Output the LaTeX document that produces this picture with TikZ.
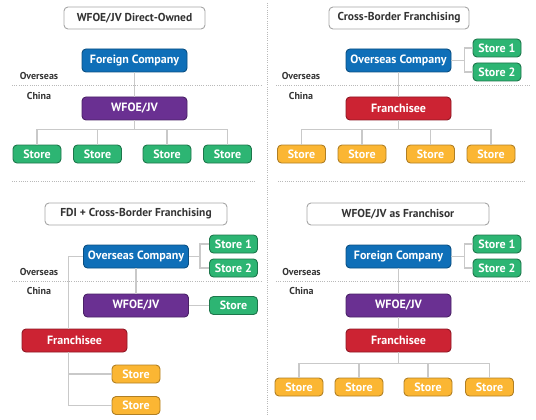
\documentclass[tikz,border=0pt]{standalone}
\usepackage{fontspec}
\setsansfont{PT Sans}
\usepackage{xcolor}
\usepackage{tikz}
\usetikzlibrary{positioning,calc}
\definecolor{cblue}{HTML}{0F6FB8}
\definecolor{cpurple}{HTML}{6A3092}
\definecolor{cred}{HTML}{CC2333}
\definecolor{cgreen}{HTML}{2DB573}
\definecolor{cyellow}{HTML}{FBB633}
\definecolor{clink}{HTML}{C9C9C9}
\definecolor{ctext}{HTML}{333333}
\tikzset{
  ttl/.style={draw=gray!70,fill=white,rounded corners=4pt,line width=0.9pt,minimum height=22pt,font=\sffamily\bfseries\fontsize{11.5}{13}\selectfont,text=ctext},
  org/.style={rounded corners=4pt,line width=0.9pt,minimum width=105pt,minimum height=23pt,text=white,font=\sffamily\bfseries\fontsize{12}{14}\selectfont},
  blu/.style={org,fill=cblue,draw=cblue!70!black},
  pur/.style={org,fill=cpurple,draw=cpurple!70!black},
  fra/.style={org,fill=cred,draw=cred!70!black},
  sgr/.style={org,minimum width=48pt,minimum height=18pt,fill=cgreen,draw=cgreen!65!black},
  syl/.style={org,minimum width=48pt,minimum height=18pt,fill=cyellow,draw=cyellow!70!black},
  reg/.style={font=\sffamily\bfseries\fontsize{10}{11}\selectfont,text=ctext},
  lnk/.style={draw=clink,line width=1.3pt},
  sep/.style={draw=gray!55,line width=0.8pt,dash pattern=on 1pt off 1.2pt},
}
\begin{document}
\begin{tikzpicture}[x=1pt,y=-1pt]
  \useasboundingbox (0,0) rectangle (536,420);
  % frame lines
  \draw[sep] (267,3) -- (267,416);
  \draw[sep] (12,181) -- (256,181);
  \draw[sep] (278,181) -- (526,181);

  % WFOE/JV Direct-Owned
  \node[ttl,minimum width=141pt] (t1) at (134.5,18) {WFOE/JV Direct-Owned};
  \node[blu] (fc1) at (134.5,60.5) {Foreign Company};
  \node[pur] (wf1) at (134.5,108.5) {WFOE/JV};
  \node[reg] (ov1) at (39,76) {Overseas};
  \node[reg] (ch1) at (39,96) {China};
  \draw[sep] (12,85) -- (262,85);
  \foreach \i/\x in {a/37,b/97.5,c/167,d/227.5}
    \node[sgr] (s1\i) at (\x,154) {Store};
  \draw[lnk] (fc1) -- (wf1);
  \foreach \i in {a,b,c,d}
    \draw[lnk] (wf1.south) -- ++(0,9) -| (s1\i.north);

  % Cross-Border Franchising
  \node[ttl,minimum width=140pt] (t2) at (399,18) {Cross-Border Franchising};
  \node[blu] (oc2) at (398.5,60.5) {Overseas Company};
  \node[sgr] (s21) at (497,48) {Store 1};
  \node[sgr] (s22) at (497,72) {Store 2};
  \node[fra] (fr2) at (398.5,108.5) {Franchisee};
  \node[reg] (ov2) at (301,76) {Overseas};
  \node[reg] (ch2) at (301,96) {China};
  \draw[sep] (276,85) -- (530,85);
  \foreach \i/\x in {a/301.5,b/362,c/430.5,d/491}
    \node[syl] (s2\i) at (\x,154) {Store};
  \draw[lnk] (oc2) -- (fr2);
  \draw[lnk] (oc2.east) -- ++(13,0) |- (s21.west);
  \draw[lnk] (oc2.east) -- ++(13,0) |- (s22.west);
  \foreach \i in {a,b,c,d}
    \draw[lnk] (fr2.south) -- ++(0,9) -| (s2\i.north);

  % FDI + Cross-Border Franchising
  \node[ttl,minimum width=182pt] (t3) at (136,214) {FDI + Cross-Border Franchising};
  \node[blu] (oc3) at (136,256.5) {Overseas Company};
  \node[sgr] (s31) at (233.5,244) {Store 1};
  \node[sgr] (s32) at (233.5,268) {Store 2};
  \node[pur] (wf3) at (136,305.5) {WFOE/JV};
  \node[sgr] (s33) at (233.5,305.5) {Store};
  \node[fra] (fr3) at (74.5,340.5) {Franchisee};
  \node[syl] (s3a) at (136,374) {Store};
  \node[syl] (s3b) at (136,405.5) {Store};
  \node[reg] (ov3) at (39,272) {Overseas};
  \node[reg] (ch3) at (39,291) {China};
  \draw[sep] (12,281) -- (262,281);
  \draw[lnk] (oc3) -- (wf3);
  \draw[lnk] (wf3) -- (s33);
  \draw[lnk] (oc3.east) -- ++(11,0) |- (s31.west);
  \draw[lnk] (oc3.east) -- ++(11,0) |- (s32.west);
  \draw[lnk] (oc3.west) -| ([xshift=-6pt]fr3.north);
  \draw[lnk] ([xshift=-6pt]fr3.south) |- (s3a.west);
  \draw[lnk] ([xshift=-6pt]fr3.south) |- (s3b.west);

  % WFOE/JV as Franchisor
  \node[ttl,minimum width=182pt] (t4) at (398,214) {WFOE/JV as Franchisor};
  \node[blu] (fc4) at (398.5,256.5) {Foreign Company};
  \node[sgr] (s41) at (497,244) {Store 1};
  \node[sgr] (s42) at (497,268) {Store 2};
  \node[pur] (wf4) at (398.5,305.5) {WFOE/JV};
  \node[fra] (fr4) at (398.5,340.5) {Franchisee};
  \node[reg] (ov4) at (301.5,272) {Overseas};
  \node[reg] (ch4) at (301.5,291) {China};
  \draw[sep] (276,281) -- (530,281);
  \foreach \i/\x in {a/299,b/359,c/428,d/489.5}
    \node[syl] (s4\i) at (\x,387) {Store};
  \draw[lnk] (fc4) -- (wf4);
  \draw[lnk] (wf4) -- (fr4);
  \draw[lnk] (fc4.east) -- ++(13,0) |- (s41.west);
  \draw[lnk] (fc4.east) -- ++(13,0) |- (s42.west);
  \foreach \i in {a,b,c,d}
    \draw[lnk] (fr4.south) -- ++(0,11) -| (s4\i.north);
\end{tikzpicture}
\end{document}
